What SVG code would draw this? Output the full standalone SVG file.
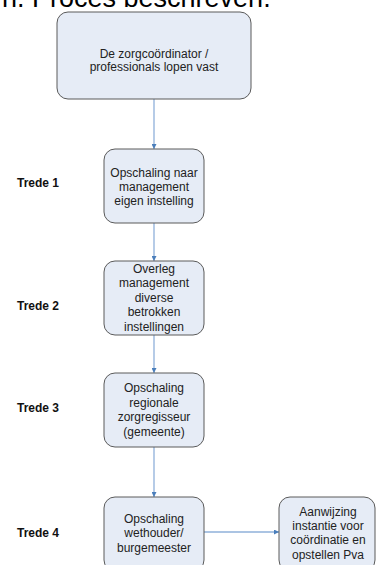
<svg xmlns="http://www.w3.org/2000/svg" width="376" height="565" viewBox="0 0 376 565">
<style>
.box{fill:#e6ecf6;stroke:#5a5a5a;stroke-width:1}
.t{font-family:"Liberation Sans",Arial,sans-serif;font-size:12px;fill:#222;text-anchor:middle}
.lbl{font-family:"Liberation Sans",Arial,sans-serif;font-size:12px;font-weight:bold;fill:#111}
.title{font-family:"Liberation Sans",Arial,sans-serif;font-size:27px;fill:#000}
.c{stroke:#8fb0da;stroke-width:1.3;fill:none;marker-end:url(#ah)}
</style>
<defs>
<marker id="ah" viewBox="0 0 10 10" refX="10" refY="5" markerWidth="5" markerHeight="5" orient="auto" markerUnits="userSpaceOnUse">
<path d="M0,0 L10,5 L0,10 z" fill="#4a7ebb"/>
</marker>
</defs>
<rect width="376" height="565" fill="#fff"/>
<text class="title" x="2" y="7">n. Proces beschreven.</text>
<g id="connectors">
<line class="c" x1="154" y1="99" x2="154" y2="149"/>
<line class="c" x1="154" y1="223" x2="154" y2="261"/>
<line class="c" x1="154" y1="335" x2="154" y2="373"/>
<line class="c" x1="154" y1="447" x2="154" y2="497"/>
<line class="c" x1="204" y1="532" x2="279" y2="532"/>
</g>
<g id="start">
<rect class="box" x="57" y="12" width="194" height="87" rx="11"/>
<text class="t" x="154" y="58">De zorgcoördinator /</text>
<text class="t" x="154" y="71">professionals lopen vast</text>
</g>
<g id="trede1">
<text class="lbl" x="17" y="187">Trede 1</text>
<rect class="box" x="104" y="149" width="100" height="74" rx="11"/>
<text class="t" x="154" y="176.5">Opschaling naar</text>
<text class="t" x="154" y="190.5">management</text>
<text class="t" x="154" y="204.5">eigen instelling</text>
</g>
<g id="trede2">
<text class="lbl" x="17" y="310">Trede 2</text>
<rect class="box" x="104" y="261" width="100" height="74" rx="11"/>
<text class="t" x="154" y="272.5">Overleg</text>
<text class="t" x="154" y="287">management</text>
<text class="t" x="154" y="301.5">diverse</text>
<text class="t" x="154" y="316">betrokken</text>
<text class="t" x="154" y="330.5">instellingen</text>
</g>
<g id="trede3">
<text class="lbl" x="17" y="411.5">Trede 3</text>
<rect class="box" x="104" y="373" width="100" height="74" rx="11"/>
<text class="t" x="154" y="392.4">Opschaling</text>
<text class="t" x="154" y="406.8">regionale</text>
<text class="t" x="154" y="421.2">zorgregisseur</text>
<text class="t" x="154" y="435.6">(gemeente)</text>
</g>
<g id="trede4">
<text class="lbl" x="17" y="536.5">Trede 4</text>
<rect class="box" x="104" y="497" width="100" height="74" rx="11"/>
<text class="t" x="154" y="522.5">Opschaling</text>
<text class="t" x="154" y="537">wethouder/</text>
<text class="t" x="154" y="551.5">burgemeester</text>
</g>
<g id="aanwijzing">
<rect class="box" x="279" y="497" width="96" height="74" rx="11"/>
<text class="t" x="328" y="515.6">Aanwijzing</text>
<text class="t" x="328" y="530">instantie voor</text>
<text class="t" x="328" y="544.4">coördinatie en</text>
<text class="t" x="328" y="558.8">opstellen Pva</text>
</g>
</svg>
